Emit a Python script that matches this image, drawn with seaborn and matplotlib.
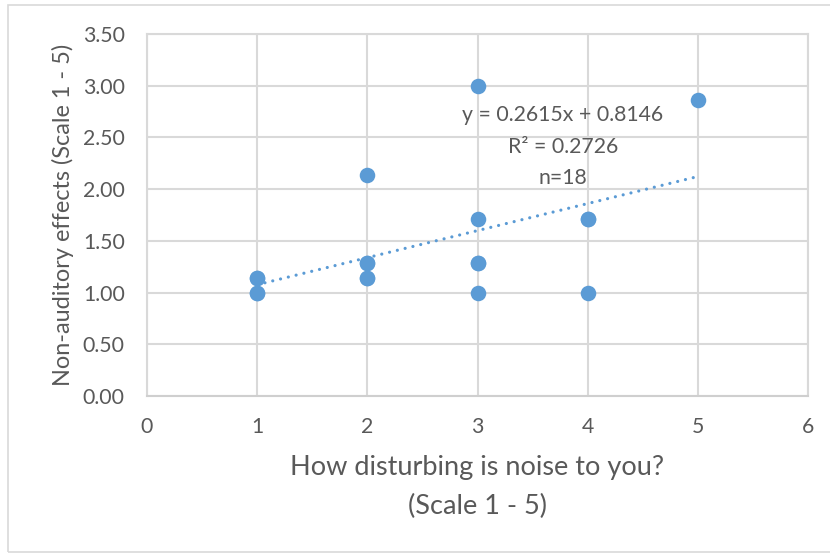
import matplotlib
matplotlib.use("Agg")
import matplotlib.pyplot as plt
import seaborn as sns
import pandas as pd
import numpy as np
from matplotlib.patches import Rectangle

# Data (18 responses; several overlap)
disturbance = [1, 1, 2, 2, 2, 3, 3, 3, 3, 4, 4, 5,
               1, 1, 2, 2, 3, 4]
non_auditory = [1.00, 1.14, 2.14, 1.29, 1.14, 3.00, 1.71, 1.29, 1.00, 1.71, 1.00, 2.86,
                1.00, 1.14, 1.29, 1.14, 1.29, 1.71]
trend_slope = 0.2615
trend_intercept = 0.8146
r_squared = 0.2726
n_count = 18

x_ticks = [0, 1, 2, 3, 4, 5, 6]
y_ticks = [0.0, 0.5, 1.0, 1.5, 2.0, 2.5, 3.0, 3.5]

sns.set_theme(style="white")
plt.rcParams['font.family'] = ['Lato', 'DejaVu Sans']

blue = "#5B9BD5"
grid = "#D9D9D9"
txt = "#595959"

df = pd.DataFrame({"x": disturbance, "y": non_auditory})

fig = plt.figure(figsize=(8.3, 5.53), dpi=100)
ax = fig.add_axes([147/830, 1 - 396/553, (808-147)/830, (396-34)/553])

# figure border
fig.patches.append(Rectangle((8/830, 1/553), 1.2, 547/553, transform=fig.transFigure,
                             fill=False, edgecolor=grid, linewidth=1.2))

# trendline from equation over data range
xs = np.array([min(disturbance), max(disturbance)], dtype=float)
trend = pd.DataFrame({"x": xs, "y": trend_slope * xs + trend_intercept})
sns.lineplot(data=trend, x="x", y="y", ax=ax, color=blue, linewidth=2.3,
             linestyle=(0, (0.01, 2.5)), zorder=3)
ax.lines[-1].set_dash_capstyle("round")

sns.scatterplot(data=df, x="x", y="y", ax=ax, s=125, color=blue,
                edgecolor=blue, linewidth=0, zorder=4)

ax.set_xlim(0, 6)
ax.set_ylim(0, 3.5)
ax.set_xticks(x_ticks)
ax.set_yticks(y_ticks)
ax.set_xticklabels([str(v) for v in x_ticks])
ax.set_yticklabels([f"{v:.2f}" for v in y_ticks])
ax.grid(True, color=grid, linewidth=1.5)
ax.set_axisbelow(True)
for sp in ax.spines.values():
    sp.set_color(grid)
    sp.set_linewidth(1.5)
ax.spines['bottom'].set_color("#CFCFCF")
ax.tick_params(axis='both', length=0, labelsize=15.3, colors=txt)
ax.tick_params(axis='y', pad=16)
ax.tick_params(axis='x', pad=15)

ax.set_xlabel("How disturbing is noise to you?\n(Scale 1 - 5)", fontsize=19.5,
              color=txt, labelpad=13, linespacing=1.68)
ax.set_ylabel("Non-auditory effects (Scale 1 - 5)", fontsize=16.9, color=txt, labelpad=6.5)

ax.text(3.776, 2.41, f"y = {trend_slope}x + {trend_intercept}\nR² = {r_squared}\nn={n_count}",
        ha="center", va="center", fontsize=15.3, color=txt, linespacing=1.72, zorder=5)

fig.savefig("out.png", dpi=100)
